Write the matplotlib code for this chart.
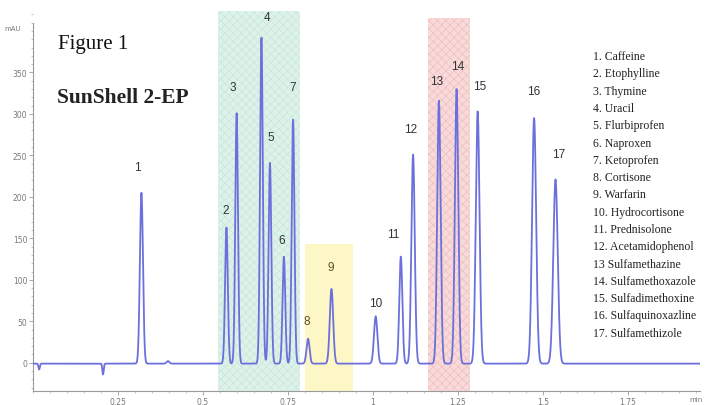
import numpy as np
import matplotlib
matplotlib.use("Agg")
import matplotlib.pyplot as plt
from matplotlib.ticker import MultipleLocator, FixedLocator

# ---- data ----
peak_ids = ["1", "2", "3", "4", "5", "6", "7", "8", "9", "10",
            "11", "12", "13", "14", "15", "16", "17"]
peak_rt = [0.319, 0.569, 0.599, 0.672, 0.697, 0.738, 0.765, 0.809, 0.878, 1.008,
           1.082, 1.118, 1.194, 1.246, 1.308, 1.474, 1.537]
peak_height = [206, 164, 302, 393, 242, 129, 294, 30, 90, 57,
               129, 252, 317, 331, 304, 296, 222]
peak_sigma = [0.0045, 0.004, 0.004, 0.004, 0.004, 0.004, 0.004, 0.0045, 0.005, 0.005,
              0.0045, 0.005, 0.005, 0.005, 0.0055, 0.006, 0.0065]
# small baseline disturbances (rt, height, sigma)
blip_rt = [0.018, 0.206, 0.397]
blip_height = [-7, -13, 3]
blip_sigma = [0.002, 0.002, 0.004]

compounds = ["1. Caffeine", "2. Etophylline", "3. Thymine", "4. Uracil",
             "5. Flurbiprofen", "6. Naproxen", "7. Ketoprofen", "8. Cortisone",
             "9. Warfarin", "10. Hydrocortisone", "11. Prednisolone",
             "12. Acetamidophenol", "13 Sulfamethazine", "14. Sulfamethoxazole",
             "15. Sulfadimethoxine", "16. Sulfaquinoxazline", "17. Sulfamethizole"]

y_ticks = [0, 50, 100, 150, 200, 250, 300, 350]
x_ticks = [0.25, 0.5, 0.75, 1.0, 1.25, 1.5, 1.75]
x_tick_labels = ["0.25", "0.5", "0.75", "1", "1.25", "1.5", "1.75"]

# highlighted zones (x range, top value)
zone_green = (0.544, 0.785)
zone_yellow = (0.80, 0.941, 143)
zone_red = (1.162, 1.285, 416)

# ---- build trace from peak table ----
t = np.linspace(0, 1.962, 6000)
signal = np.full_like(t, -1.0)
for rt, h, s in zip(peak_rt, peak_height, peak_sigma):
    signal += h * np.exp(-0.5 * ((t - rt) / s) ** 2)
for rt, h, s in zip(blip_rt, blip_height, blip_sigma):
    signal += h * np.exp(-0.5 * ((t - rt) / s) ** 2)

W, H = 707, 406
fig = plt.figure(figsize=(W / 100, H / 100), dpi=100)
fig.patch.set_facecolor("white")

left_px, right_px, bottom_px, top_px = 33, 700, 392, 12
ax = fig.add_axes([left_px / W, (H - bottom_px) / H,
                   (right_px - left_px) / W, (bottom_px - top_px) / H])
ax.set_xlim(0, 1.962)
ax.set_ylim(-34, 424)

plt.rcParams['hatch.linewidth'] = 0.4
ax.axvspan(zone_green[0], zone_green[1], ymin=0, ymax=1, facecolor="#ddf2e9",
           edgecolor="#c4e6d7", hatch="xxxx", lw=0, zorder=0)
ax.fill_between([zone_yellow[0], zone_yellow[1]], -34, zone_yellow[2],
                facecolor="#fdf7c6", edgecolor="none", zorder=0)
ax.fill_between([zone_red[0], zone_red[1]], -34, zone_red[2],
                facecolor="#f9dada", edgecolor="#f0b9b9", hatch="xxxx", lw=0, zorder=0)

ax.plot(t, signal, color="#6c70dc", lw=1.3, zorder=3)

# peak labels
label_dy = [25, 17, 25, 20, 25, 16, 32, 17, 21, 12,
            22, 25, 19, 22, 25, 26, 25]
label_dx = [-4, -1, -4, 6, 1, -2, 0, -1, -1, 0,
            -8, -2, -2, 1, 2, 0, 3]
for pid, rt, h, dx, dy in zip(peak_ids, peak_rt, peak_height, label_dx, label_dy):
    col = "#5a4d22" if pid in ("8", "9") else "#333333"
    ax.annotate(pid, (rt, h), xytext=(dx * 0.72, dy * 0.72), textcoords="offset points",
                ha="center", va="center", fontsize=8.5, color=col,
                family="Liberation Sans", zorder=5)

# axes styling
for s in ("top", "right"):
    ax.spines[s].set_visible(False)
ax.spines["left"].set_bounds(-34, 410)
ax.spines["left"].set_color("#9a9a9a")
ax.spines["bottom"].set_color("#9a9a9a")
ax.yaxis.set_major_locator(FixedLocator(y_ticks))
ax.yaxis.set_minor_locator(MultipleLocator(10))
ax.set_yticklabels([str(v) for v in y_ticks])
ax.xaxis.set_major_locator(FixedLocator(x_ticks))
ax.xaxis.set_minor_locator(MultipleLocator(0.05))
ax.set_xticklabels(x_tick_labels)
ax.tick_params(axis="both", which="major", labelsize=5.5, labelcolor="#777777",
               color="#9a9a9a", length=3, width=0.6, pad=1)
ax.tick_params(axis="both", which="minor", color="#b0b0b0", length=1.5, width=0.5)
ax.patch.set_alpha(0)

fig.text(4 / W, 1 - 29 / H, "mAU", fontsize=5, color="#777777", va="center", ha="left")
fig.text(703 / W, 1 - 400 / H, "min", fontsize=5, color="#777777", va="center", ha="right")

fig.text(58 / W, 1 - 45 / H, "Figure 1", fontsize=15, family="Liberation Serif",
         color="#111111", va="center", ha="left")
fig.text(57 / W, 1 - 98 / H, "SunShell 2-EP", fontsize=15.5, family="Liberation Serif",
         weight="bold", color="#222222", va="center", ha="left")

for i, name in enumerate(compounds):
    fig.text(593 / W, 1 - (57 + i * 17.3) / H, name, fontsize=8.5, family="Liberation Serif",
             color="#222222", va="center", ha="left")

fig.savefig("out.png", dpi=100, facecolor="white")
